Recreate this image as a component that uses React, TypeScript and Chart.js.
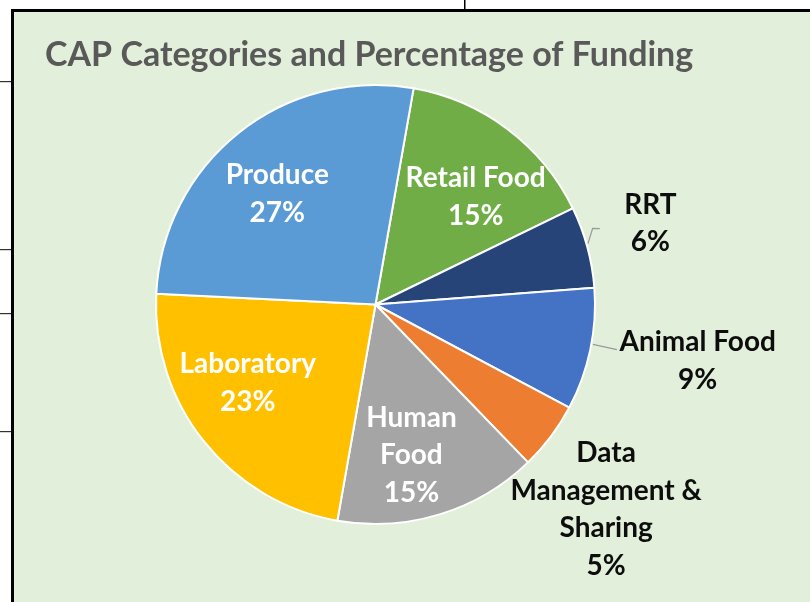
import React, { useEffect, useRef } from "react";
import { Chart, registerables } from "chart.js";

Chart.register(...registerables);

// ---- data ----
const title = "CAP Categories and Percentage of Funding";
const categories = [
  "Retail Food",
  "RRT",
  "Animal Food",
  "Data Management & Sharing",
  "Human Food",
  "Laboratory",
  "Produce",
];
const percentages = [15, 6, 9, 5, 15, 23, 27];
const labelLines = [
  ["Retail Food"],
  ["RRT"],
  ["Animal Food"],
  ["Data", "Management &", "Sharing"],
  ["Human", "Food"],
  ["Laboratory"],
  ["Produce"],
];

// ---- styles / placement ----
const sliceColors = ["#70AD47", "#264478", "#4472C4", "#ED7D31", "#A5A5A5", "#FFC000", "#5B9BD5"];
const labelInside = [true, false, false, false, true, true, true];
const labelAngleShift = [5.9, -1.2, -1.9, 4.6, 3.6, 7, -3];
const labelRadiusFactor = [0.67, 1.305, 1.49, 1.405, 0.706, 0.683, 0.674];
// leader lines as polar points: [degrees clockwise from top, radius factor]
const leaders: number[][][] = [
  [],
  [[74, 1.007], [70.7, 1.048], [71.3, 1.079]],
  [[100.4, 1.007], [100.6, 1.119]],
  [],
  [],
  [],
  [],
];

const FONT = "Lato, 'Open Sans', sans-serif";

const decorPlugin = {
  id: "decor",
  beforeDraw(chart: any) {
    const ctx = chart.ctx;
    const W = chart.width;
    const H = chart.height;
    ctx.save();
    ctx.fillStyle = "#ffffff";
    ctx.fillRect(0, 0, W, H);
    ctx.fillStyle = "#E2EFDA";
    ctx.fillRect(14, 12, W - 14, H - 12);
    ctx.fillStyle = "#000000";
    ctx.fillRect(11, 9, W - 11, 3);
    ctx.fillRect(11, 9, 3, H - 9);
    ctx.fillRect(464, 0, 1.5, 9);
    ctx.fillStyle = "#333333";
    [81, 249, 313, 431].forEach((y) => ctx.fillRect(0, y, 11, 1.2));
    // title
    ctx.fillStyle = "#595959";
    ctx.font = `bold 34px ${FONT}`;
    ctx.textAlign = "left";
    ctx.textBaseline = "alphabetic";
    ctx.fillText(title, 45, 66);
    ctx.restore();
  },
  afterDraw(chart: any) {
    const ctx = chart.ctx;
    const meta = chart.getDatasetMeta(0);
    ctx.save();
    meta.data.forEach((arc: any, i: number) => {
      const p = arc.getProps(["x", "y", "startAngle", "endAngle", "outerRadius"], true);
      const R = p.outerRadius;
      // leader lines
      const pts = leaders[i];
      if (pts.length) {
        ctx.strokeStyle = "#9a9a9a";
        ctx.lineWidth = 1.2;
        ctx.beginPath();
        pts.forEach(([deg, f], k) => {
          const a = ((deg - 90) * Math.PI) / 180;
          const px = p.x + Math.cos(a) * R * f;
          const py = p.y + Math.sin(a) * R * f;
          if (k === 0) ctx.moveTo(px, py);
          else ctx.lineTo(px, py);
        });
        ctx.stroke();
      }
      const mid = (p.startAngle + p.endAngle) / 2 + (labelAngleShift[i] * Math.PI) / 180;
      const cx = p.x + Math.cos(mid) * R * labelRadiusFactor[i];
      const cy = p.y + Math.sin(mid) * R * labelRadiusFactor[i];
      const lines = [...labelLines[i], `${percentages[i]}%`];
      const lh = 37.5;
      ctx.font = `bold 28px ${FONT}`;
      ctx.textAlign = "center";
      ctx.textBaseline = "middle";
      ctx.fillStyle = labelInside[i] ? "#ffffff" : "#0d0d0d";
      lines.forEach((t, k) => {
        ctx.fillText(t, cx, cy + (k - (lines.length - 1) / 2) * lh);
      });
    });
    ctx.restore();
  },
};

export default function App() {
  const ref = useRef<HTMLCanvasElement | null>(null);
  useEffect(() => {
    if (!ref.current) return;
    const chart = new Chart(ref.current, {
      type: "pie",
      data: {
        labels: categories,
        datasets: [
          {
            data: percentages,
            backgroundColor: sliceColors,
            borderColor: "#ffffff",
            borderWidth: 2,
          },
        ],
      },
      options: {
        responsive: false,
        animation: false,
        rotation: 10,
        layout: { padding: { left: 155, right: 214, top: 84, bottom: 77 } },
        plugins: {
          legend: { display: false },
          title: { display: false },
          tooltip: { enabled: false },
        },
      },
      plugins: [decorPlugin],
    });
    return () => chart.destroy();
  }, []);
  return (
    <div style={{ position: "fixed", left: 0, top: 0, width: 810, height: 602 }}>
      <canvas ref={ref} width={810} height={602} style={{ display: "block" }} />
    </div>
  );
}
